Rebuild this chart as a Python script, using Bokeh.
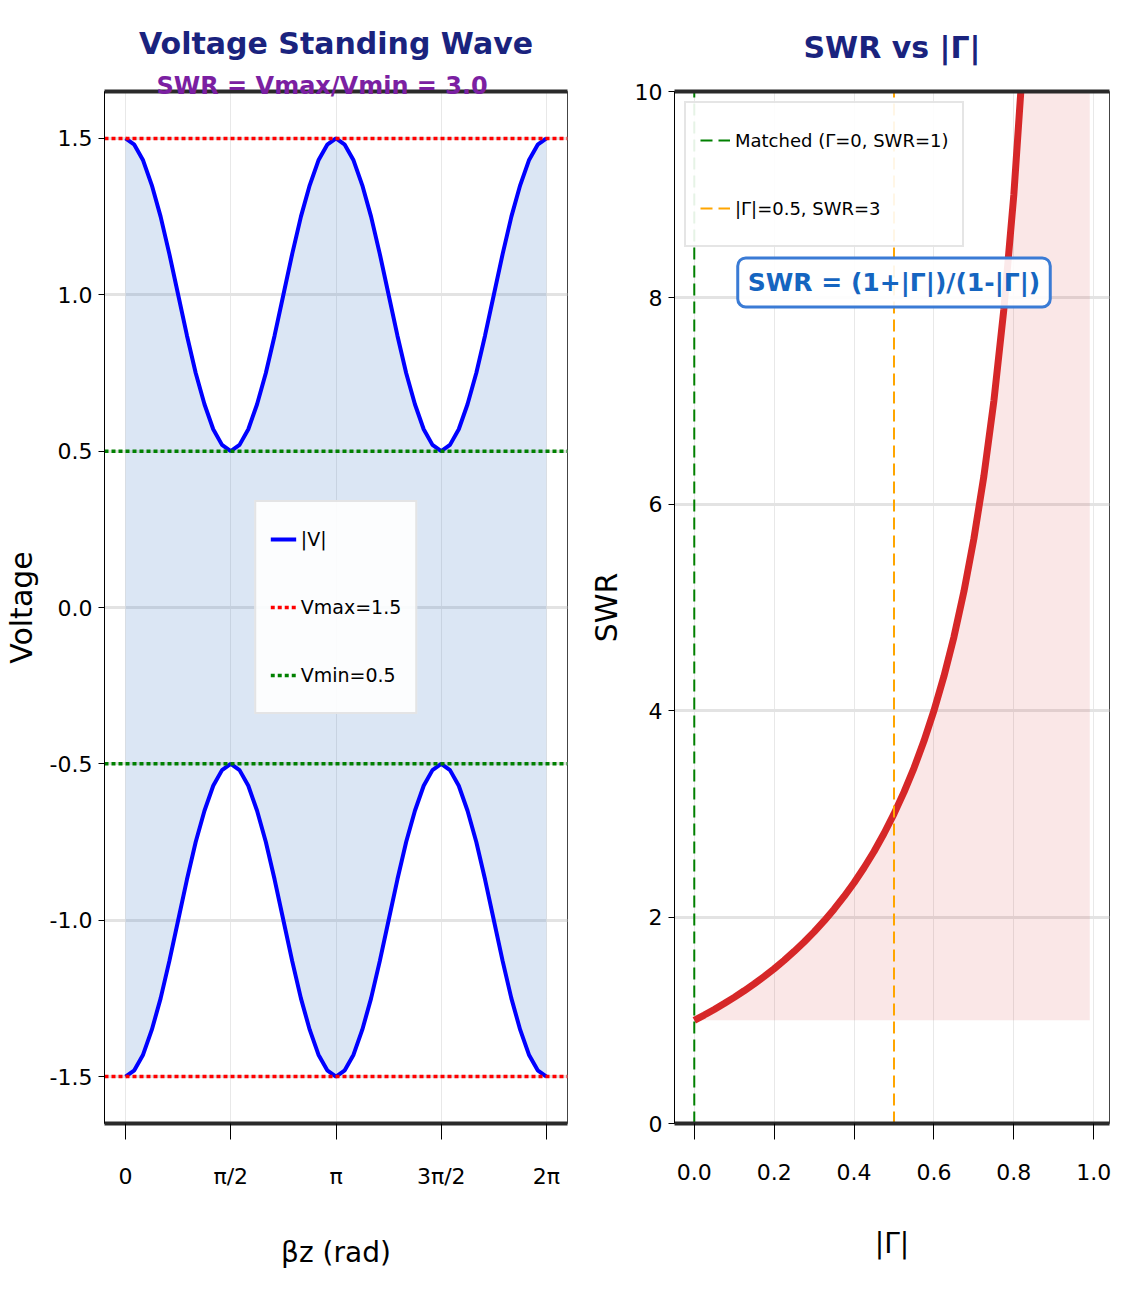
import numpy as np
from bokeh.plotting import figure
from bokeh.models import (Range1d, LinearAxis, FixedTicker, Legend, LegendItem, Label, Title,
                          PrintfTickFormatter)
from bokeh.layouts import row
from bokeh.embed import file_html
from bokeh.resources import INLINE

# ---------------- data ----------------
bz_deg = [0, 7.5, 15, 22.5, 30, 37.5, 45, 52.5, 60, 67.5, 75, 82.5, 90, 97.5, 105, 112.5,
          120, 127.5, 135, 142.5, 150, 157.5, 165, 172.5, 180, 187.5, 195, 202.5, 210, 217.5,
          225, 232.5, 240, 247.5, 255, 262.5, 270, 277.5, 285, 292.5, 300, 307.5, 315, 322.5,
          330, 337.5, 345, 352.5, 360]
v_mag = [1.50, 1.48, 1.43, 1.35, 1.25, 1.13, 1.00, 0.87, 0.75, 0.65, 0.57, 0.52, 0.50,
         0.52, 0.57, 0.65, 0.75, 0.87, 1.00, 1.13, 1.25, 1.35, 1.43, 1.48, 1.50,
         1.48, 1.43, 1.35, 1.25, 1.13, 1.00, 0.87, 0.75, 0.65, 0.57, 0.52, 0.50,
         0.52, 0.57, 0.65, 0.75, 0.87, 1.00, 1.13, 1.25, 1.35, 1.43, 1.48, 1.50]
v_max = 1.5
v_min = 0.5
swr_text = "SWR = Vmax/Vmin = 3.0"
bz_tick_deg = [0, 90, 180, 270, 360]
bz_tick_labels = ["0", "π/2", "π", "3π/2", "2π"]
volt_ticks = [-1.5, -1.0, -0.5, 0.0, 0.5, 1.0, 1.5]

gamma = [0.0, 0.025, 0.05, 0.075, 0.1, 0.125, 0.15, 0.175, 0.2, 0.225, 0.25, 0.275, 0.3,
         0.325, 0.35, 0.375, 0.4, 0.425, 0.45, 0.475, 0.5, 0.525, 0.55, 0.575, 0.6, 0.625,
         0.65, 0.675, 0.7, 0.725, 0.75, 0.775, 0.8, 0.825, 0.85, 0.875, 0.9, 0.925, 0.95,
         0.975, 0.99]
swr = [1.000, 1.051, 1.105, 1.162, 1.222, 1.286, 1.353, 1.424, 1.500, 1.581, 1.667, 1.759,
       1.857, 1.963, 2.077, 2.200, 2.333, 2.478, 2.636, 2.810, 3.000, 3.211, 3.444, 3.706,
       4.000, 4.333, 4.714, 5.154, 5.667, 6.273, 7.000, 7.889, 9.000, 10.429, 12.333, 15.0,
       19.0, 25.667, 39.0, 79.0, 199.0]
gamma_ticks = [0.0, 0.2, 0.4, 0.6, 0.8, 1.0]
swr_ticks = [0, 2, 4, 6, 8, 10]
gamma_matched = 0.0
gamma_marked = 0.5
legend_labels_right = ["Matched (Γ=0, SWR=1)", "|Γ|=0.5, SWR=3"]
formula_text = "SWR = (1+|Γ|)/(1-|Γ|)"

FONT = "DejaVu Sans"
H = 1273


def style(p, title_standoff):
    p.title.text_font = FONT
    p.title.text_font_size = "30px"
    p.title.text_font_style = "bold"
    p.title.text_color = "#1a237e"
    p.title.align = "center"
    p.title.standoff = title_standoff
    for ax in (p.xaxis, p.yaxis):
        ax.axis_label_text_font = FONT
        ax.axis_label_text_font_style = "normal"
        ax.axis_label_text_color = "black"
        ax.major_label_text_font = FONT
        ax.major_label_text_font_size = "22px"
        ax.major_label_text_color = "black"
        ax.minor_tick_line_color = None
        ax.major_tick_in = 0
        ax.major_tick_line_color = "black"
    p.xaxis.axis_label_text_font_size = "28px"
    p.yaxis.axis_label_text_font_size = "30px"
    p.xaxis.major_tick_out = 16
    p.yaxis.major_tick_out = 6
    p.xaxis.axis_line_width = 4
    p.xaxis.axis_line_color = "#2a2a2a"
    p.yaxis.axis_line_color = "black"
    p.xaxis.axis_label_standoff = 44
    p.xaxis.major_label_standoff = 24
    p.yaxis.axis_label_standoff = 8
    p.yaxis.major_label_standoff = 6
    p.ygrid.grid_line_color = "#e3e3e3"
    p.ygrid.grid_line_width = 3
    p.xgrid.grid_line_color = "#e8e8e8"
    p.xgrid.grid_line_width = 1
    p.outline_line_color = "#444444"
    p.outline_line_width = 1


def add_top_spine(p):
    top = LinearAxis(ticker=FixedTicker(ticks=[]), axis_line_width=4,
                     axis_line_color="#2a2a2a", major_tick_line_color=None,
                     minor_tick_line_color=None, axis_label=None)
    p.add_layout(top, "above")


# ---------------- left panel ----------------
bz = np.radians(bz_deg)
v_neg = [-v for v in v_mag]
xr1 = Range1d(-0.05 * 2 * np.pi, 2 * np.pi * 1.05)
p1 = figure(width=585, height=H, x_range=xr1, y_range=Range1d(-1.1 * v_max, 1.1 * v_max),
            title="Voltage Standing Wave", output_backend="svg", toolbar_location=None,
            min_border_left=50, min_border_right=18, min_border_top=90, min_border_bottom=150)
style(p1, 33)
p1.xaxis.axis_label = "βz (rad)"
p1.yaxis.axis_label = "Voltage"
p1.xaxis.ticker = FixedTicker(ticks=list(np.radians(bz_tick_deg)))
p1.xaxis.major_label_overrides = {float(t): l for t, l in zip(np.radians(bz_tick_deg), bz_tick_labels)}
p1.yaxis.ticker = FixedTicker(ticks=volt_ticks)
p1.yaxis.formatter = PrintfTickFormatter(format="%.1f")
add_top_spine(p1)

p1.varea(x=bz, y1=v_neg, y2=v_mag, fill_color="#3774c2", fill_alpha=0.18)
r_v = p1.line(bz, v_mag, line_color="blue", line_width=4)
p1.line(bz, v_neg, line_color="blue", line_width=4)
xs_full = [xr1.start, xr1.end]
r_max = p1.line(xs_full, [v_max, v_max], line_color="red", line_width=3.5, line_dash="4 3")
p1.line(xs_full, [-v_max, -v_max], line_color="red", line_width=3.5, line_dash="4 3")
r_min = p1.line(xs_full, [v_min, v_min], line_color="green", line_width=3.5, line_dash="4 3")
p1.line(xs_full, [-v_min, -v_min], line_color="green", line_width=3.5, line_dash="4 3")

leg1 = Legend(items=[LegendItem(label="|V|", renderers=[r_v]),
                     LegendItem(label=f"Vmax={v_max}", renderers=[r_max]),
                     LegendItem(label=f"Vmin={v_min}", renderers=[r_min])],
              location="center", label_text_font=FONT, label_text_font_size="19px",
              label_text_color="black",
              label_height=46, glyph_height=30, glyph_width=26, spacing=22, padding=14,
              border_line_color="#cccccc", border_line_width=2,
              background_fill_alpha=0.9)
p1.add_layout(leg1, "center")

p1.add_layout(Title(text=swr_text, align="left", offset=52, standoff=-16,
                    text_font=FONT, text_font_size="24px", text_font_style="bold",
                    text_color="#7b1fa2"), "above")

# ---------------- right panel ----------------
xr2 = Range1d(-0.05 * 0.99, 0.99 * 1.05)
p2 = figure(width=526, height=H, x_range=xr2, y_range=Range1d(0, 10),
            title="SWR vs |Γ|", output_backend="svg", toolbar_location=None,
            min_border_left=30, min_border_right=2, min_border_top=90, min_border_bottom=150)
style(p2, 54)
p2.xaxis.axis_label = "|Γ|"
p2.yaxis.axis_label = "SWR"
p2.xaxis.ticker = FixedTicker(ticks=gamma_ticks)
p2.xaxis.formatter = PrintfTickFormatter(format="%.1f")
p2.yaxis.ticker = FixedTicker(ticks=swr_ticks)
add_top_spine(p2)

p2.varea(x=gamma, y1=[1.0] * len(gamma), y2=swr, fill_color="#d62728", fill_alpha=0.11)
p2.line(gamma, swr, line_color="#d62728", line_width=7)
r_m = p2.line([gamma_matched, gamma_matched], [0, 10], line_color="green", line_width=2,
              line_dash="12 6")
r_h = p2.line([gamma_marked, gamma_marked], [0, 10], line_color="orange", line_width=2,
              line_dash="12 6")
leg2 = Legend(items=[LegendItem(label=legend_labels_right[0], renderers=[r_m]),
                     LegendItem(label=legend_labels_right[1], renderers=[r_h])],
              location="top_left", label_text_font=FONT, label_text_font_size="18px",
              label_text_color="black",
              label_height=46, glyph_height=30, glyph_width=30, spacing=22, padding=14,
              border_line_color="#cccccc", border_line_width=2, background_fill_alpha=0.9)
p2.add_layout(leg2, "center")

p2.add_layout(Label(x=0.5, y=8.15, text=formula_text, text_font=FONT, text_font_size="25px",
                    text_font_style="bold", text_color="#1565c0", text_align="center",
                    text_baseline="middle", background_fill_color="white",
                    background_fill_alpha=0.9, border_line_color="#3a7bd5",
                    border_line_width=3, padding=10, border_radius=8))

layout = row(p1, p2)
open("out.html", "w").write(file_html(layout, INLINE))
